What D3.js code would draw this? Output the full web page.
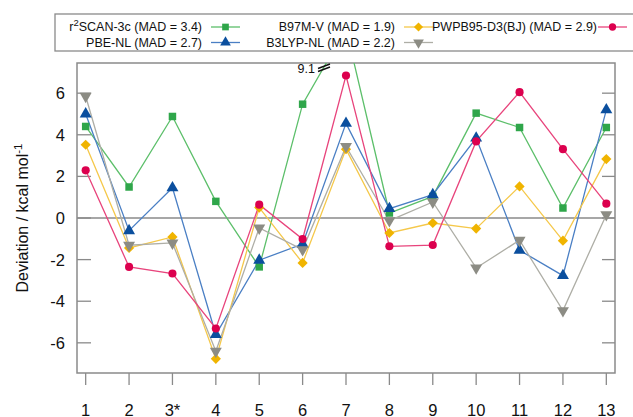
<!DOCTYPE html>
<html>
<head>
<meta charset="utf-8">
<script src="https://cdn.jsdelivr.net/npm/d3@7"></script>
<style>
  body { margin: 0; background: #fff; }
  svg { font-family: "Liberation Sans", Arial, sans-serif; }
</style>
</head>
<body>
<svg id="chart" width="633" height="417"></svg>
<script>
// systems on the x axis
const systems = ["1", "2", "3*", "4", "5", "6", "7", "8", "9", "10", "11", "12", "13"];
const yTicks = [-6, -4, -2, 0, 2, 4, 6];

// deviations in kcal/mol
const r2scan = [4.40, 1.49, 4.88, 0.80, -2.35, 5.47, 9.1, 0.24, 1.04, 5.04, 4.35, 0.48, 4.35];
const pbeNL = [5.00, -0.61, 1.45, -5.60, -2.03, -1.25, 4.55, 0.45, 1.12, 3.84, -1.55, -2.77, 5.20];
const b97mv = [3.52, -1.44, -0.91, -6.77, 0.50, -2.16, 3.31, -0.72, -0.24, -0.51, 1.52, -1.09, 2.83];
const b3lypNL = [5.85, -1.31, -1.20, -6.40, -0.48, -1.52, 3.44, -0.13, 0.77, -2.40, -1.07, -4.45, 0.16];
const pwpb95 = [2.29, -2.35, -2.67, -5.31, 0.64, -1.01, 6.85, -1.36, -1.30, 3.68, 6.05, 3.31, 0.69];

const series = [
  { name: "SCAN-3c (MAD = 3.4)", pre: "r", sup: "2", values: r2scan, shape: "square", fill: "#2fa64a", line: "#5cbf6a" },
  { name: "PBE-NL (MAD = 2.7)", values: pbeNL, shape: "up", fill: "#0b4f9e", line: "#4a7fc4" },
  { name: "B97M-V (MAD = 1.9)", values: b97mv, shape: "diamond", fill: "#f0b400", line: "#f5c84a" },
  { name: "B3LYP-NL (MAD = 2.2)", values: b3lypNL, shape: "down", fill: "#8c8c84", line: "#aeaea6" },
  { name: "PWPB95-D3(BJ) (MAD = 2.9)", values: pwpb95, shape: "circle", fill: "#dc004e", line: "#e8447c" }
];

const svg = d3.select("#chart");
const frameColor = "#8a8a8a";

const x = d3.scaleLinear().domain([0.8, 13.2]).range([77, 615]);
const y = d3.scaleLinear().domain([-7.45, 7.45]).range([373, 63]);

function symbolPath(shape, big) {
  const k = big ? 1 : 0.8;
  if (shape === "square") return d3.symbol(d3.symbolSquare, 56 * k)();
  if (shape === "diamond") return d3.symbol(d3.symbolSquare, 52 * k)();
  if (shape === "circle") return d3.symbol(d3.symbolCircle, 52 * k)();
  return d3.symbol(d3.symbolTriangle, 62 * k)();
}
function symbolRotate(shape) {
  if (shape === "diamond") return " rotate(45)";
  if (shape === "down") return " rotate(180)";
  return "";
}

// clip to plot area
svg.append("clipPath").attr("id", "plotclip")
  .append("rect")
  .attr("x", x.range()[0]).attr("y", y.range()[1])
  .attr("width", x.range()[1] - x.range()[0])
  .attr("height", y.range()[0] - y.range()[1]);

// zero line
svg.append("line")
  .attr("x1", x.range()[0]).attr("x2", x.range()[1])
  .attr("y1", y(0)).attr("y2", y(0))
  .attr("stroke", frameColor).attr("stroke-width", 1.3);

// y ticks, inward on both sides
const gy = svg.append("g");
yTicks.forEach((t) => {
  gy.append("line")
    .attr("x1", x.range()[0]).attr("x2", x.range()[0] + 14)
    .attr("y1", y(t)).attr("y2", y(t))
    .attr("stroke", frameColor).attr("stroke-width", 1.3);
  gy.append("line")
    .attr("x1", x.range()[1] - 13).attr("x2", x.range()[1])
    .attr("y1", y(t)).attr("y2", y(t))
    .attr("stroke", frameColor).attr("stroke-width", 1.3);
  gy.append("text")
    .attr("x", 65).attr("y", y(t))
    .attr("dy", "0.36em")
    .attr("text-anchor", "end")
    .attr("font-size", 16.5)
    .attr("fill", "#111")
    .text(t);
});

// x ticks, outward below
const gx = svg.append("g");
systems.forEach((s, i) => {
  gx.append("line")
    .attr("x1", x(i + 1)).attr("x2", x(i + 1))
    .attr("y1", y.range()[0]).attr("y2", y.range()[0] + 12)
    .attr("stroke", frameColor).attr("stroke-width", 1.3);
  gx.append("text")
    .attr("x", x(i + 1)).attr("y", 415.5)
    .attr("text-anchor", "middle")
    .attr("font-size", 16.5)
    .attr("fill", "#111")
    .text(s);
});

// frame
svg.append("rect")
  .attr("x", x.range()[0]).attr("y", y.range()[1])
  .attr("width", x.range()[1] - x.range()[0])
  .attr("height", y.range()[0] - y.range()[1])
  .attr("fill", "none")
  .attr("stroke", frameColor).attr("stroke-width", 1.5);

// y label
const ylab = svg.append("text")
  .attr("transform", "translate(28," + y(0) + ") rotate(-90)")
  .attr("text-anchor", "middle")
  .attr("font-size", 16)
  .attr("fill", "#111");
ylab.append("tspan").text("Deviation / kcal mol");
ylab.append("tspan").attr("dy", -6).attr("font-size", 11.5).text("-1");

// series
const plot = svg.append("g").attr("clip-path", "url(#plotclip)");
const line = d3.line().x((d, i) => x(i + 1)).y((d) => y(d));

series.forEach((s) => {
  plot.append("path")
    .datum(s.values)
    .attr("d", line)
    .attr("fill", "none")
    .attr("stroke", s.line)
    .attr("stroke-width", 1.3);
});
series.forEach((s) => {
  plot.selectAll(null)
    .data(s.values)
    .join("path")
    .attr("d", symbolPath(s.shape, true))
    .attr("transform", (d, i) => "translate(" + x(i + 1) + "," + y(d) + ")" + symbolRotate(s.shape))
    .attr("fill", s.fill);
});

// off-scale marker for system 7 of r2SCAN-3c
svg.append("text")
  .attr("x", 315).attr("y", 72.5)
  .attr("text-anchor", "end")
  .attr("font-size", 12.5)
  .attr("fill", "#111")
  .text("9.1");
[0, 3].forEach((o) => {
  svg.append("line")
    .attr("x1", 318).attr("y1", 70.5 + o - 2)
    .attr("x2", 330).attr("y2", 66 + o - 2)
    .attr("stroke", "#111").attr("stroke-width", 1.6);
});

// legend
svg.append("rect")
  .attr("x", 55).attr("y", 14)
  .attr("width", 600).attr("height", 37)
  .attr("fill", "#fff")
  .attr("stroke", frameColor).attr("stroke-width", 1.3);

const legendPos = [
  { x: 202, y: 27 },
  { x: 202, y: 42.5 },
  { x: 395, y: 27 },
  { x: 395, y: 42.5 },
  { x: 597, y: 27 }
];
series.forEach((s, i) => {
  const p = legendPos[i];
  const t = svg.append("text")
    .attr("x", p.x).attr("y", p.y)
    .attr("dy", "0.35em")
    .attr("text-anchor", "end")
    .attr("font-size", 12.5)
    .attr("fill", "#111");
  if (s.pre) {
    t.append("tspan").text(s.pre);
    t.append("tspan").attr("dy", -5).attr("font-size", 9.5).text(s.sup);
    t.append("tspan").attr("dy", 5).text(s.name);
  } else {
    t.text(s.name);
  }
  const lx0 = p.x + (i === 4 ? 1 : 9);
  const lx1 = lx0 + 29;
  svg.append("line")
    .attr("x1", lx0).attr("x2", lx1)
    .attr("y1", p.y).attr("y2", p.y)
    .attr("stroke", s.line).attr("stroke-width", 1.3);
  svg.append("path")
    .attr("d", symbolPath(s.shape, false))
    .attr("transform", "translate(" + (lx0 + lx1) / 2 + "," + p.y + ")" + symbolRotate(s.shape))
    .attr("fill", s.fill);
});
</script>
</body>
</html>
